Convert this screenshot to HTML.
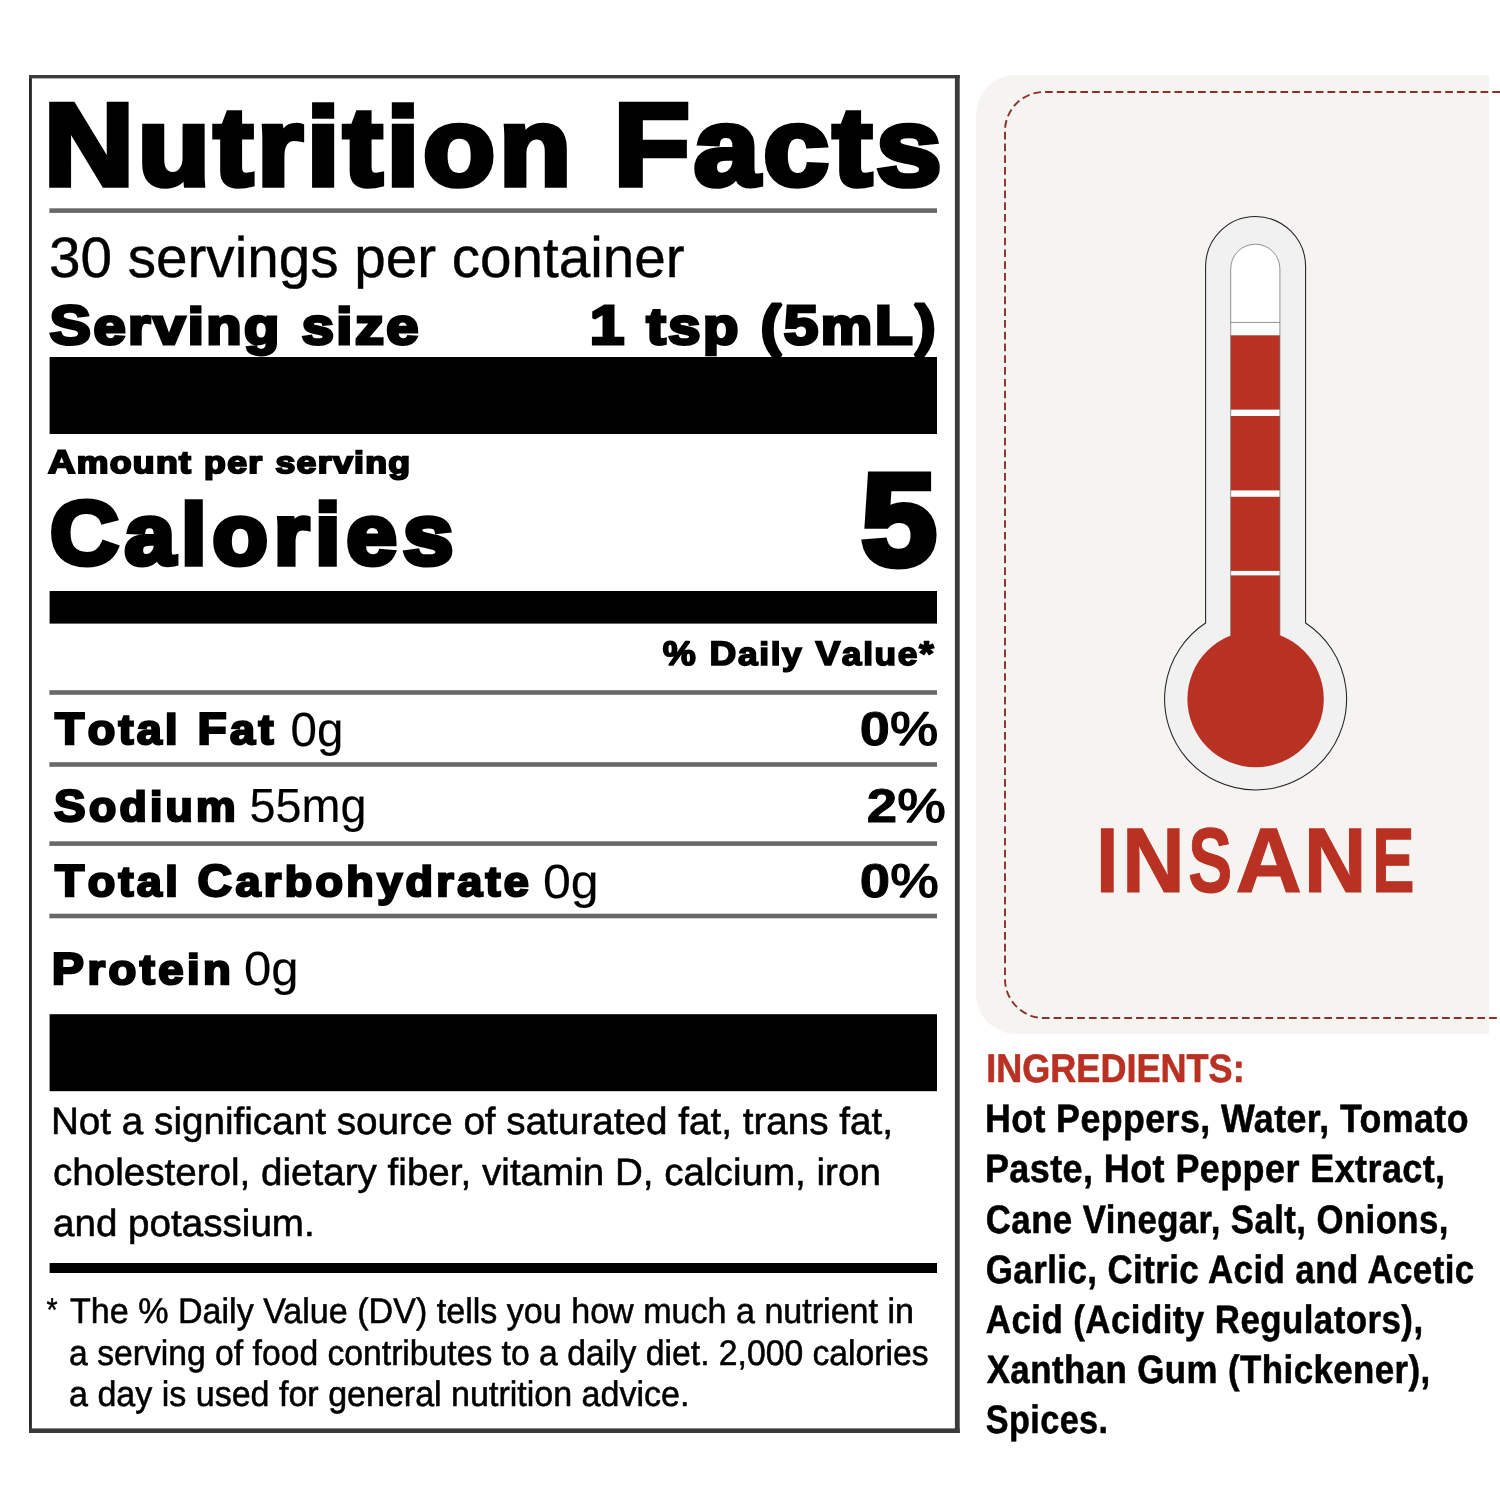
<!DOCTYPE html>
<html lang="en"><head><meta charset="utf-8"><title>Nutrition Facts</title>
<style>
html,body{margin:0;padding:0;background:#fff;}
body{width:1500px;height:1500px;overflow:hidden;font-family:"Liberation Sans",sans-serif;}
svg{display:block}
</style></head><body>
<svg width="1500" height="1500" viewBox="0 0 1500 1500" font-family="Liberation Sans, sans-serif" text-rendering="geometricPrecision">
<!-- right panel -->
<path d="M1489 75 H1016 A40 40 0 0 0 976 115 V994 A40 40 0 0 0 1016 1034 H1489 Z" fill="#f6f4f1"/>
<path d="M1500 92 H1044 A39 39 0 0 0 1005 131 V979 A39 39 0 0 0 1044 1018 H1500" fill="none" stroke="#8a3028" stroke-width="1.9" stroke-dasharray="7.7 4.07"/>
<!-- thermometer -->
<g>
<path d="M1205.6 266.6 A50 50 0 0 1 1305.6 266.6 V623 A91 91 0 1 1 1205.6 623 Z" fill="#f1f1f1" stroke="#222" stroke-width="1.05"/>
<path d="M1230.7 268.8 A24.6 24.6 0 0 1 1279.9 268.8 V322.4 H1230.7 Z" fill="#fff"/>
<rect x="1230.7" y="322.4" width="49.2" height="340" fill="#fdfdfd"/>
<rect x="1230.7" y="335.3" width="49.2" height="74.3" fill="#b83122"/>
<rect x="1230.7" y="416" width="49.2" height="74.4" fill="#b83122"/>
<rect x="1230.7" y="496.8" width="49.2" height="74.1" fill="#b83122"/>
<rect x="1230.7" y="575.4" width="49.2" height="90" fill="#b83122"/>
<circle cx="1255.6" cy="699" r="68.2" fill="#b83122"/>
<path d="M1230.7 635.4 V268.8 A24.6 24.6 0 0 1 1279.9 268.8 V635.4 M1230.7 322.4 H1279.9" fill="none" stroke="#666" stroke-width="0.7"/>
</g>
<!-- nutrition box -->
<rect x="29" y="75" width="930.7" height="1358" fill="#fff"/>
<rect x="29" y="75" width="2.9" height="1358" fill="#2a2a2a"/>
<rect x="29" y="75" width="930.7" height="3.4" fill="#3c3c3c"/>
<rect x="954.9" y="75" width="4.8" height="1358" fill="#3a3a3a"/>
<rect x="29" y="1428.4" width="930.7" height="4.6" fill="#3a3a3a"/>
<!-- rules -->
<rect x="49.4" y="208.3" width="887.6" height="4.6" fill="#686868"/>
<rect x="49.6" y="357" width="887.4" height="77" fill="#000"/>
<rect x="49.6" y="591" width="887.4" height="32.6" fill="#000"/>
<rect x="49.4" y="690.2" width="887.6" height="4.6" fill="#686868"/>
<rect x="49.4" y="762.2" width="887.6" height="4.6" fill="#686868"/>
<rect x="49.4" y="841.3" width="887.6" height="4.6" fill="#686868"/>
<rect x="49.4" y="913.7" width="887.6" height="4.6" fill="#686868"/>
<rect x="49.6" y="1014.2" width="887.4" height="77" fill="#000"/>
<rect x="49.6" y="1263" width="887.4" height="10" fill="#000"/>

<g>
<text aria-label="Nutrition Facts" transform="translate(43.65 184.75) scale(1.0696 1)" font-weight="bold" font-size="117.01" fill="#000" stroke="#000" stroke-width="5.5" stroke-linejoin="miter" stroke-miterlimit="2" letter-spacing="3.51">N<tspan font-size="110.57">utrition</tspan> F<tspan font-size="110.57">acts</tspan></text>
<text transform="translate(49.01 277.00) scale(0.9937 1)" font-weight="normal" font-size="56.98" fill="#000" stroke="#000" stroke-width="0.4" stroke-linejoin="miter" stroke-miterlimit="2">30 servings per container</text>
<text aria-label="Serving size" transform="translate(49.50 343.85) scale(1.1291 1)" font-weight="bold" font-size="55.09" fill="#000" stroke="#000" stroke-width="3.1" stroke-linejoin="miter" stroke-miterlimit="2" letter-spacing="2.20">S<tspan font-size="51.23">erving</tspan> <tspan font-size="51.23">size</tspan></text>
<text aria-label="1 tsp (5mL)" transform="translate(589.74 343.85) scale(1.1287 1)" font-weight="bold" font-size="55.09" fill="#000" stroke="#000" stroke-width="3.1" stroke-linejoin="miter" stroke-miterlimit="2" letter-spacing="2.20">1 <tspan font-size="51.23">tsp</tspan> (5<tspan font-size="51.23">m</tspan>L)</text>
<text aria-label="Amount per serving" transform="translate(48.00 472.60) scale(1.1543 1)" font-weight="bold" font-size="32.85" fill="#000" stroke="#000" stroke-width="2.0" stroke-linejoin="miter" stroke-miterlimit="2" letter-spacing="1.15">A<tspan font-size="30.88">mount</tspan> <tspan font-size="30.88">per</tspan> <tspan font-size="30.88">serving</tspan></text>
<text aria-label="Calories" transform="translate(49.94 564.30) scale(1.0553 1)" font-weight="bold" font-size="90.12" fill="#000" stroke="#000" stroke-width="5.4" stroke-linejoin="miter" stroke-miterlimit="2" letter-spacing="5.86">C<tspan font-size="85.61">alories</tspan></text>
<text transform="translate(861.00 565.15) scale(1.0411 1)" font-weight="bold" font-size="131.25" fill="#000" stroke="#000" stroke-width="6.5" stroke-linejoin="miter" stroke-miterlimit="2">5</text>
<text aria-label="% Daily Value*" transform="translate(662.70 664.75) scale(1.0972 1)" font-weight="bold" font-size="33.87" fill="#000" stroke="#000" stroke-width="1.7" stroke-linejoin="miter" stroke-miterlimit="2" letter-spacing="1.52">% D<tspan font-size="32.17">aily</tspan> V<tspan font-size="32.17">alue</tspan>*</text>
<text aria-label="Total Fat" transform="translate(55.07 744.00) scale(1.0680 1)" font-weight="bold" font-size="44.77" fill="#000" stroke="#000" stroke-width="2.4" stroke-linejoin="miter" stroke-miterlimit="2" letter-spacing="3.13">T<tspan font-size="42.08">otal</tspan> F<tspan font-size="42.08">at</tspan></text>
<text transform="translate(290.52 745.52) scale(0.9896 1)" font-weight="normal" font-size="48.04" fill="#000" stroke="#000" stroke-width="0.15" stroke-linejoin="miter" stroke-miterlimit="2">0g</text>
<text aria-label="0%" transform="translate(859.86 744.95) scale(1.1439 1)" font-weight="bold" font-size="47.38" fill="#000" stroke="#000" stroke-width="0.9" stroke-linejoin="miter" stroke-miterlimit="2">0<tspan font-weight="normal" stroke-width="1.5">%</tspan></text>
<text aria-label="Sodium" transform="translate(54.00 820.60) scale(1.0651 1)" font-weight="bold" font-size="44.48" fill="#000" stroke="#000" stroke-width="2.4" stroke-linejoin="miter" stroke-miterlimit="2" letter-spacing="3.11">S<tspan font-size="41.81">odium</tspan></text>
<text transform="translate(249.55 822.32) scale(0.9739 1)" font-weight="normal" font-size="48.04" fill="#000" stroke="#000" stroke-width="0.15" stroke-linejoin="miter" stroke-miterlimit="2">55mg</text>
<text aria-label="2%" transform="translate(866.85 821.95) scale(1.1515 1)" font-weight="bold" font-size="47.38" fill="#000" stroke="#000" stroke-width="0.9" stroke-linejoin="miter" stroke-miterlimit="2">2<tspan font-weight="normal" stroke-width="1.5">%</tspan></text>
<text aria-label="Total Carbohydrate" transform="translate(55.07 896.00) scale(1.0687 1)" font-weight="bold" font-size="44.77" fill="#000" stroke="#000" stroke-width="2.4" stroke-linejoin="miter" stroke-miterlimit="2" letter-spacing="3.13">T<tspan font-size="42.08">otal</tspan> C<tspan font-size="42.08">arbohydrate</tspan></text>
<text transform="translate(542.92 897.52) scale(1.0417 1)" font-weight="normal" font-size="48.04" fill="#000" stroke="#000" stroke-width="0.15" stroke-linejoin="miter" stroke-miterlimit="2">0g</text>
<text aria-label="0%" transform="translate(859.85 896.95) scale(1.1515 1)" font-weight="bold" font-size="47.38" fill="#000" stroke="#000" stroke-width="0.9" stroke-linejoin="miter" stroke-miterlimit="2">0<tspan font-weight="normal" stroke-width="1.5">%</tspan></text>
<text aria-label="Protein" transform="translate(51.84 983.60) scale(1.0802 1)" font-weight="bold" font-size="44.77" fill="#000" stroke="#000" stroke-width="2.4" stroke-linejoin="miter" stroke-miterlimit="2" letter-spacing="3.13">P<tspan font-size="42.08">rotein</tspan></text>
<text transform="translate(243.96 985.42) scale(1.0208 1)" font-weight="normal" font-size="48.04" fill="#000" stroke="#000" stroke-width="0.15" stroke-linejoin="miter" stroke-miterlimit="2">0g</text>
<text transform="translate(50.95 1133.72) scale(1.0170 1)" font-weight="normal" font-size="38.01" fill="#000" stroke="#000" stroke-width="0.55" stroke-linejoin="miter" stroke-miterlimit="2">Not a significant source of saturated fat, trans fat,</text>
<text transform="translate(52.98 1184.72) scale(1.0156 1)" font-weight="normal" font-size="38.01" fill="#000" stroke="#000" stroke-width="0.55" stroke-linejoin="miter" stroke-miterlimit="2">cholesterol, dietary fiber, vitamin D, calcium, iron</text>
<text transform="translate(52.98 1235.72) scale(1.0157 1)" font-weight="normal" font-size="38.01" fill="#000" stroke="#000" stroke-width="0.55" stroke-linejoin="miter" stroke-miterlimit="2">and potassium.</text>
<text transform="translate(46.60 1321.30) scale(0.8667 1)" font-weight="normal" font-size="33.00" fill="#000" stroke="#000" stroke-width="0.4" stroke-linejoin="miter" stroke-miterlimit="2">*</text>
<text transform="translate(70.00 1323.32) scale(0.9590 1)" font-weight="normal" font-size="35.54" fill="#000" stroke="#000" stroke-width="0.55" stroke-linejoin="miter" stroke-miterlimit="2">The % Daily Value (DV) tells you how much a nutrient in</text>
<text transform="translate(69.05 1365.42) scale(0.9481 1)" font-weight="normal" font-size="35.54" fill="#000" stroke="#000" stroke-width="0.55" stroke-linejoin="miter" stroke-miterlimit="2">a serving of food contributes to a daily diet. 2,000 calories</text>
<text transform="translate(69.04 1405.52) scale(0.9576 1)" font-weight="normal" font-size="35.54" fill="#000" stroke="#000" stroke-width="0.55" stroke-linejoin="miter" stroke-miterlimit="2">a day is used for general nutrition advice.</text>
<text transform="translate(986.19 1082.30) scale(0.9054 1)" font-weight="bold" font-size="39.83" fill="#b83122" stroke="#b83122" stroke-width="0.6" stroke-linejoin="miter" stroke-miterlimit="2">INGREDIENTS:</text>
<text transform="translate(984.89 1132.32) scale(0.9026 1)" font-weight="bold" font-size="39.61" fill="#000" stroke="#000" stroke-width="0.55" stroke-linejoin="miter" stroke-miterlimit="2" letter-spacing="0.48">Hot Peppers, Water, Tomato</text>
<text transform="translate(984.89 1181.82) scale(0.9072 1)" font-weight="bold" font-size="39.61" fill="#000" stroke="#000" stroke-width="0.55" stroke-linejoin="miter" stroke-miterlimit="2" letter-spacing="0.48">Paste, Hot Pepper Extract,</text>
<text transform="translate(985.82 1232.52) scale(0.8782 1)" font-weight="bold" font-size="39.61" fill="#000" stroke="#000" stroke-width="0.55" stroke-linejoin="miter" stroke-miterlimit="2" letter-spacing="0.48">Cane Vinegar, Salt, Onions,</text>
<text transform="translate(985.82 1282.72) scale(0.8805 1)" font-weight="bold" font-size="39.61" fill="#000" stroke="#000" stroke-width="0.55" stroke-linejoin="miter" stroke-miterlimit="2" letter-spacing="0.48">Garlic, Citric Acid and Acetic</text>
<text transform="translate(985.82 1332.92) scale(0.8813 1)" font-weight="bold" font-size="39.61" fill="#000" stroke="#000" stroke-width="0.55" stroke-linejoin="miter" stroke-miterlimit="2" letter-spacing="0.48">Acid (Acidity Regulators),</text>
<text transform="translate(986.70 1382.82) scale(0.8801 1)" font-weight="bold" font-size="39.61" fill="#000" stroke="#000" stroke-width="0.55" stroke-linejoin="miter" stroke-miterlimit="2" letter-spacing="0.48">Xanthan Gum (Thickener),</text>
<text transform="translate(985.84 1433.02) scale(0.8630 1)" font-weight="bold" font-size="39.61" fill="#000" stroke="#000" stroke-width="0.55" stroke-linejoin="miter" stroke-miterlimit="2" letter-spacing="0.48">Spices.</text>
<text aria-label="INSANE" y="892.10" font-family="Liberation Sans, sans-serif" font-weight="bold" font-size="91.72" fill="#b83122" stroke="#b83122" stroke-width="1.2" stroke-linejoin="miter" stroke-miterlimit="2"><tspan x="1096.09" textLength="22.57" lengthAdjust="spacingAndGlyphs">I</tspan><tspan x="1122.11" textLength="62.88" lengthAdjust="spacingAndGlyphs">N</tspan><tspan x="1188.16" textLength="43.92" lengthAdjust="spacingAndGlyphs">S</tspan><tspan x="1235.60" textLength="66.36" lengthAdjust="spacingAndGlyphs">A</tspan><tspan x="1303.81" textLength="62.88" lengthAdjust="spacingAndGlyphs">N</tspan><tspan x="1372.36" textLength="42.24" lengthAdjust="spacingAndGlyphs">E</tspan></text>
</g>
</svg>
</body></html>
